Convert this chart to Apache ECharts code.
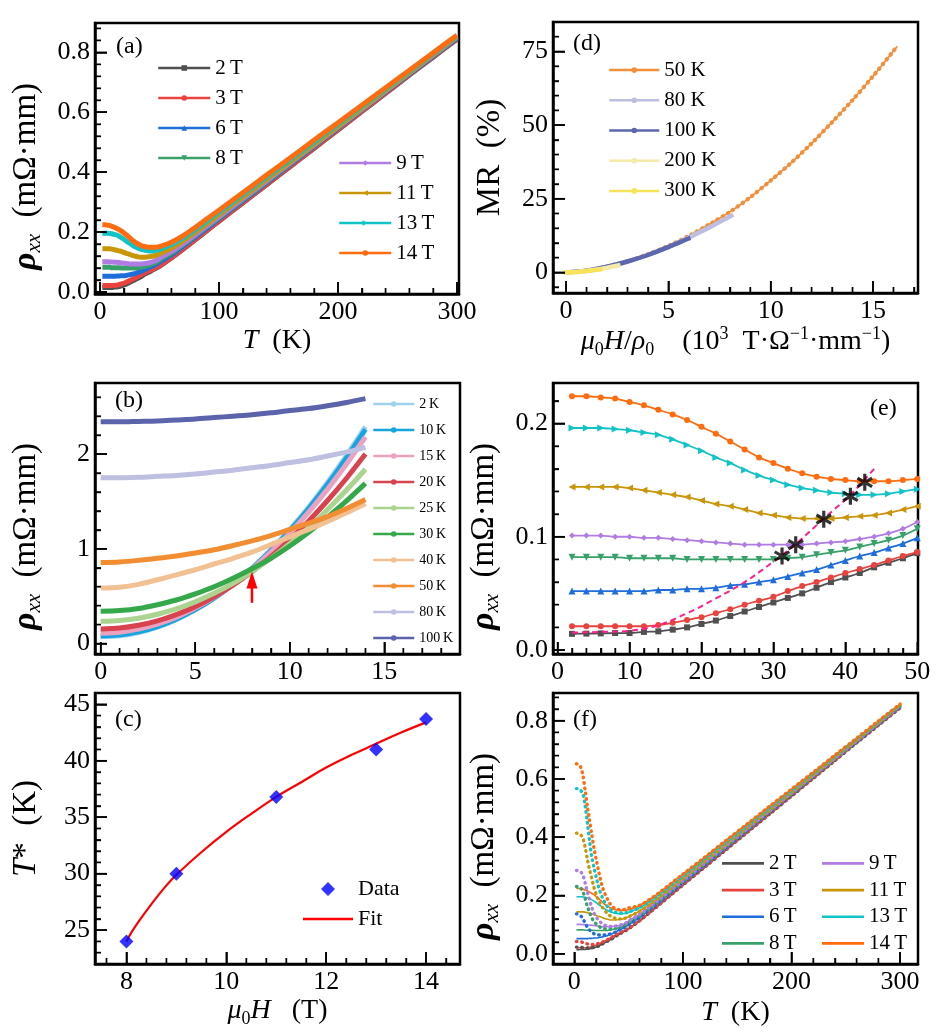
<!DOCTYPE html>
<html><head><meta charset="utf-8">
<script src="https://cdn.jsdelivr.net/npm/echarts@6/dist/echarts.min.js"></script>
<style>html,body{margin:0;padding:0;background:#fff}#c{width:945px;height:1036px}</style>
</head><body><div id="c"></div>
<script>
// ---------------- DATA ----------------
const T_LOW = [2,4,6,8,10,12,14,16,18,20,22,24,26,28,30,32,34,36,38,40,42,44,46,48,50];
const T_HIGH = [60,70,80,90,100,120,140,160,180,200,220,240,260,280,300];
const rho2_low  = [0.0143,0.0145,0.0147,0.015,0.015,0.016,0.0165,0.018,0.020,0.023,0.026,0.030,0.034,0.038,0.042,0.046,0.050,0.055,0.060,0.064,0.068,0.073,0.077,0.081,0.0855];
const rho3_low  = [0.021,0.021,0.021,0.021,0.021,0.021,0.022,0.024,0.0265,0.029,0.0325,0.036,0.040,0.0435,0.047,0.052,0.0565,0.060,0.064,0.068,0.0715,0.075,0.079,0.083,0.0865];
const rho6_low  = [0.052,0.052,0.052,0.052,0.052,0.052,0.053,0.053,0.054,0.054,0.055,0.057,0.058,0.060,0.062,0.065,0.068,0.071,0.075,0.079,0.083,0.086,0.090,0.094,0.099];
const rho8_low  = [0.082,0.082,0.082,0.082,0.081,0.081,0.081,0.081,0.080,0.080,0.080,0.080,0.080,0.080,0.080,0.081,0.082,0.084,0.086,0.088,0.091,0.094,0.097,0.101,0.107];
const rho9_low  = [0.101,0.101,0.101,0.100,0.100,0.099,0.099,0.098,0.097,0.096,0.095,0.094,0.093,0.093,0.093,0.093,0.093,0.094,0.095,0.096,0.098,0.100,0.103,0.107,0.113];
const rho11_low = [0.144,0.144,0.144,0.144,0.143,0.141,0.139,0.137,0.135,0.132,0.129,0.127,0.124,0.121,0.119,0.117,0.116,0.116,0.116,0.117,0.118,0.119,0.121,0.124,0.127];
const rho13_low = [0.196,0.196,0.196,0.195,0.194,0.192,0.190,0.186,0.181,0.176,0.170,0.165,0.159,0.154,0.150,0.146,0.143,0.141,0.139,0.138,0.137,0.137,0.138,0.140,0.142];
const rho14_low = [0.224,0.224,0.223,0.222,0.219,0.216,0.212,0.208,0.203,0.197,0.191,0.184,0.177,0.170,0.165,0.160,0.156,0.153,0.151,0.150,0.149,0.149,0.149,0.150,0.151];
const rho2_high  = [0.113,0.143,0.174,0.205,0.236,0.297,0.358,0.419,0.480,0.541,0.602,0.663,0.724,0.784,0.844];
const rho3_high  = [0.114,0.144,0.175,0.206,0.237,0.298,0.359,0.420,0.481,0.542,0.603,0.664,0.725,0.785,0.845];
const rho6_high  = [0.124,0.153,0.183,0.213,0.244,0.304,0.365,0.426,0.487,0.547,0.608,0.668,0.728,0.788,0.848];
const rho8_high  = [0.130,0.158,0.188,0.218,0.248,0.308,0.368,0.429,0.489,0.549,0.609,0.670,0.730,0.790,0.850];
const rho9_high  = [0.135,0.162,0.191,0.221,0.251,0.311,0.371,0.431,0.491,0.551,0.611,0.671,0.731,0.791,0.851];
const rho11_high = [0.146,0.171,0.199,0.228,0.258,0.317,0.376,0.435,0.494,0.553,0.613,0.673,0.733,0.793,0.853];
const rho13_high = [0.158,0.181,0.208,0.237,0.266,0.325,0.384,0.442,0.501,0.560,0.619,0.678,0.737,0.796,0.855];
const rho14_high = [0.166,0.188,0.215,0.244,0.273,0.331,0.390,0.448,0.507,0.565,0.623,0.682,0.740,0.799,0.857];
const dot2  = [0.023,0.023,0.022,0.021,0.020,0.020,0.020,0.021,0.022,0.024,0.026,0.030,0.034,0.038,0.042,0.046,0.050,0.055,0.060,0.064,0.068,0.073,0.077,0.081,0.0855];
const dot3  = [0.042,0.042,0.041,0.039,0.036,0.034,0.033,0.032,0.032,0.033,0.035,0.037,0.040,0.0435,0.047,0.052,0.0565,0.060,0.064,0.068,0.0715,0.075,0.079,0.083,0.0865];
const dot6  = [0.137,0.136,0.130,0.120,0.105,0.092,0.082,0.074,0.069,0.066,0.065,0.064,0.064,0.065,0.066,0.067,0.069,0.071,0.075,0.079,0.083,0.086,0.090,0.094,0.099];
const dot8  = [0.231,0.230,0.225,0.213,0.190,0.164,0.143,0.124,0.112,0.103,0.096,0.091,0.088,0.086,0.085,0.085,0.085,0.086,0.087,0.089,0.091,0.094,0.097,0.101,0.107];
const dot9  = [0.286,0.285,0.281,0.270,0.243,0.213,0.187,0.160,0.141,0.127,0.117,0.109,0.102,0.098,0.096,0.094,0.094,0.094,0.095,0.096,0.098,0.100,0.103,0.107,0.113];
const dot11 = [0.414,0.413,0.408,0.396,0.366,0.325,0.290,0.261,0.229,0.206,0.186,0.171,0.159,0.149,0.140,0.133,0.128,0.124,0.122,0.121,0.120,0.120,0.121,0.124,0.127];
const dot13 = [0.567,0.566,0.560,0.548,0.508,0.452,0.390,0.334,0.298,0.266,0.235,0.211,0.192,0.177,0.165,0.155,0.149,0.145,0.142,0.141,0.140,0.140,0.140,0.141,0.143];
const dot14 = [0.652,0.650,0.640,0.612,0.560,0.508,0.458,0.412,0.365,0.327,0.291,0.256,0.228,0.208,0.192,0.177,0.166,0.159,0.155,0.152,0.151,0.151,0.152,0.154,0.157];
const FIELD_LABELS = ['2','3','6','8','9','11','13','14'];
const STAR_T = [31.2,33.1,37.0,40.7,42.7];
const STAR_V = [0.083,0.093,0.1155,0.1357,0.148];
const GUIDE_T = [2,6,10,14,18,22,26,30,33,37,40.7,44];
const GUIDE_V = [0.0155,0.016,0.017,0.022,0.0325,0.0455,0.060,0.078,0.093,0.116,0.137,0.160];
const H_B = [0,1,2,3,4,5,6,7,8,9,10,11,12,13,14];
const b2   = [0.072,0.083,0.117,0.174,0.253,0.355,0.48,0.627,0.796,0.989,1.204,1.442,1.702,1.985,2.29];
const b10  = [0.08,0.091,0.124,0.18,0.258,0.358,0.48,0.625,0.792,0.981,1.192,1.426,1.681,1.96,2.26];
const b15  = [0.11,0.12,0.152,0.205,0.279,0.374,0.49,0.627,0.786,0.965,1.166,1.388,1.63,1.895,2.18];
const b20  = [0.155,0.164,0.193,0.24,0.306,0.39,0.494,0.616,0.757,0.917,1.096,1.294,1.51,1.745,2.0];
const b25  = [0.235,0.244,0.268,0.31,0.366,0.44,0.53,0.635,0.76,0.9,1.055,1.225,1.415,1.62,1.84];
const b30  = [0.34,0.348,0.37,0.41,0.46,0.525,0.6,0.69,0.79,0.9,1.03,1.175,1.335,1.505,1.69];
const b40  = [0.586,0.595,0.625,0.674,0.725,0.779,0.84,0.9,0.965,1.045,1.125,1.205,1.29,1.38,1.475];
const b50  = [0.856,0.862,0.878,0.9,0.925,0.955,0.99,1.035,1.084,1.14,1.205,1.27,1.34,1.425,1.52];
const b80  = [1.75,1.75,1.755,1.765,1.775,1.79,1.81,1.83,1.855,1.88,1.91,1.94,1.98,2.02,2.07];
const b100 = [2.34,2.34,2.345,2.35,2.36,2.37,2.385,2.4,2.415,2.435,2.46,2.48,2.51,2.545,2.585];
const TEMP_LABELS_B = ['2','10','15','20','25','30','40','50','80','100'];
const ARROW_H = 8, ARROW_FROM = 0.43, ARROW_TO = 0.67;
const H_C = [8,9,11,13,14];
const TSTAR = [24.0,30.0,36.8,41.0,43.7];
const FIT_H = [8,8.1,8.25,8.5,8.75,9,9.5,10,10.5,11,11.5,12,12.5,13,13.5,14];
const FIT_T = [24.0,24.8,25.8,27.3,28.7,29.9,31.9,33.7,35.3,36.8,38.1,39.4,40.5,41.5,42.5,43.4];
const X50 = [0,1,2,3,4,5,6,7,8,9,10,11,12,13,14,15,16.19];
const MR50 = [0,0.6,2.0,3.8,6.2,9.0,12.4,16.3,20.5,25.5,31.2,37.2,43.8,51.0,58.5,66.6,76.8];
const X80 = [0,1,2,3,4,5,6,7,8,8.17];
const MR80 = [0,0.6,1.9,3.7,5.9,8.6,11.8,15.2,19.0,19.6];
const X100 = [0,1,2,3,4,5,6,6.08];
const MR100 = [0,0.6,1.9,3.7,5.9,8.6,11.5,11.7];
const X200 = [0,0.5,1,1.5,2,2.66];
const MR200 = [0,0.15,0.5,1.0,1.6,2.5];
const X300 = [-0.1,0.5,1,1.5,1.76];
const MR300 = [0,0.12,0.45,0.85,1.1];
const TEMP_LABELS_D = ['50','80','100','200','300'];
// axis ranges per panel: [xmin, xmax, xstep, ymin, ymax, ystep]
const RANGE_A = [-4.2, 301.7, 100, -0.007, 0.898, 0.2];
const RANGE_D = [-0.64, 17.2, 5, -7, 85, 25];
const RANGE_B = [-0.3, 19, 5, -0.11, 2.75, 1];
const RANGE_E = [-0.64, 50.1, 10, -0.0035, 0.2357, 0.1];
const RANGE_C = [7.37, 14.68, 2, 22, 46, 5];
const RANGE_F = [-19.6, 316.5, 100, -0.035, 0.895, 0.2];

// ---------------- STYLE ----------------
const FONT = '"Liberation Serif","DejaVu Serif",serif';
const FIELD_COLORS = ['#505050','#e8433f','#1f6ddb','#38a169','#b07ce3','#c9960a','#11c3c6','#ff6b0f'];
const FIELD_SYMBOLS = ['rect','circle','triangle','triangle','diamond','triangle','triangle','circle'];
const FIELD_ROT = [0,0,0,180,0,90,-90,0];
const B_COLORS = ['#9fd1ee','#18a5df','#eba2c0','#d9434f','#aad490','#34a84b','#f2c193','#f28d31','#bebfe1','#5b63ab'];
const D_COLORS = ['#f28f3b','#bdbfe2','#5c67ae','#f5eaa8','#f7e25b'];
const THIN = '\u2009';

const zip = (xs, ys) => xs.map((x, i) => [x, ys[i]]);
const LOWS = [rho2_low,rho3_low,rho6_low,rho8_low,rho9_low,rho11_low,rho13_low,rho14_low];
const HIGHS = [rho2_high,rho3_high,rho6_high,rho8_high,rho9_high,rho11_high,rho13_high,rho14_high];
const DOTS = [dot2,dot3,dot6,dot8,dot9,dot11,dot13,dot14];
const T_ALL = T_LOW.concat(T_HIGH);
const B_ARR = [b2,b10,b15,b20,b25,b30,b40,b50,b80,b100];
const RANGES = [RANGE_A, RANGE_D, RANGE_B, RANGE_E, RANGE_C, RANGE_F];

const richY = {
  r: {fontFamily: FONT, fontSize: 34, fontStyle: 'italic', fontWeight: 'bold', color: '#000', lineHeight: 38},
  si: {fontFamily: FONT, fontSize: 21, fontStyle: 'italic', color: '#000', verticalAlign: 'bottom', lineHeight: 20},
  n: {fontFamily: FONT, fontSize: 33, color: '#000', lineHeight: 38},
  i: {fontFamily: FONT, fontSize: 33, fontStyle: 'italic', color: '#000', lineHeight: 38}
};
const richX = {
  n: {fontFamily: FONT, fontSize: 28, color: '#000', lineHeight: 34},
  i: {fontFamily: FONT, fontSize: 28, fontStyle: 'italic', color: '#000', lineHeight: 34},
  s: {fontFamily: FONT, fontSize: 18, color: '#000', verticalAlign: 'bottom', lineHeight: 18},
  p: {fontFamily: FONT, fontSize: 18, color: '#000', verticalAlign: 'top', lineHeight: 20}
};
const RHO_NAME = '{r|ρ}{si|xx}{n|  (mΩ·mm)}';
const RHO_STYLE = {rich: richY, padding: [0, 36, 0, 0]};

function axis(grid, min, max, step, fmt, extra) {
  return Object.assign({
    type: 'value', gridIndex: grid, min: min, max: max, zlevel: 1, z: 10,
    minInterval: step, maxInterval: step, splitNumber: 5,
    axisLine: {show: true, onZero: false, lineStyle: {color: '#000', width: 2.5}},
    axisTick: {show: true, inside: true, length: 12, lineStyle: {color: '#000', width: 1.6}},
    minorTick: {show: true, splitNumber: 5, length: 6, lineStyle: {color: '#000', width: 1.4}},
    splitLine: {show: false},
    axisLabel: {show: true, showMinLabel: false, showMaxLabel: false, color: '#000',
      fontFamily: FONT, fontSize: 26, margin: 5, formatter: fmt},
    nameLocation: 'middle'
  }, extra || {});
}
const f1 = v => v.toFixed(1);
const f0 = v => String(Math.round(v));

const grids = [
  {left: 95, top: 23, width: 364, height: 271},
  {left: 553, top: 22, width: 365, height: 271},
  {left: 95, top: 383, width: 365, height: 271},
  {left: 553, top: 383, width: 365, height: 271},
  {left: 95, top: 693, width: 365, height: 271},
  {left: 553, top: 693, width: 365, height: 271}
].map(g => Object.assign(g, {show: true, borderColor: '#000', borderWidth: 2.5}));

const xAxes = [
  axis(0, RANGE_A[0], RANGE_A[1], RANGE_A[2], f0, {name: '{i|T}{n|  (K)}', nameGap: 30, nameTextStyle: {rich: richX}}),
  axis(1, RANGE_D[0], RANGE_D[1], RANGE_D[2], f0, {name: '{i|μ}{s|0}{i|H}{n|/}{i|ρ}{s|0}{n|    (10}{p|3}{n|  T·Ω}{p|−1}{n|·mm}{p|−1}{n|)}', nameGap: 30, nameTextStyle: {rich: richX}}),
  axis(2, RANGE_B[0], RANGE_B[1], RANGE_B[2], f0),
  axis(3, RANGE_E[0], RANGE_E[1], RANGE_E[2], f0),
  axis(4, RANGE_C[0], RANGE_C[1], RANGE_C[2], f0, {name: '{i|μ}{s|0}{i|H}{n|   (T)}', nameGap: 30, nameTextStyle: {rich: richX}}),
  axis(5, RANGE_F[0], RANGE_F[1], RANGE_F[2], f0, {name: '{i|T}{n|  (K)}', nameGap: 32, nameTextStyle: {rich: richX}})
];
const yAxes = [
  axis(0, RANGE_A[3], RANGE_A[4], RANGE_A[5], f1, {name: RHO_NAME, nameGap: 50, nameTextStyle: RHO_STYLE}),
  axis(1, RANGE_D[3], RANGE_D[4], RANGE_D[5], f0, {name: '{n|MR  (%)}', nameGap: 44, nameTextStyle: {rich: richY}}),
  axis(2, RANGE_B[3], RANGE_B[4], RANGE_B[5], f0, {name: RHO_NAME, nameGap: 50, nameTextStyle: RHO_STYLE}),
  axis(3, RANGE_E[3], RANGE_E[4], RANGE_E[5], f1, {name: RHO_NAME, nameGap: 50, nameTextStyle: RHO_STYLE}),
  axis(4, RANGE_C[3], RANGE_C[4], RANGE_C[5], f0, {name: '{i|T}{n|*  (K)}', nameGap: 50, nameTextStyle: {rich: richY}}),
  axis(5, RANGE_F[3], RANGE_F[4], RANGE_F[5], f1, {name: RHO_NAME, nameGap: 50, nameTextStyle: RHO_STYLE})
];

const series = [];
FIELD_LABELS.forEach((f, k) => {
  series.push({
    type: 'line', name: 'a:' + f + THIN + 'T', xAxisIndex: 0, yAxisIndex: 0,
    data: zip(T_ALL, LOWS[k].concat(HIGHS[k])), smooth: 0.3,
    showSymbol: false, symbol: FIELD_SYMBOLS[k], symbolRotate: FIELD_ROT[k],
    itemStyle: {color: FIELD_COLORS[k]},
    lineStyle: {color: FIELD_COLORS[k], width: 5}, z: 2
  });
});
const D_SETS = [[X50, MR50], [X80, MR80], [X100, MR100], [X200, MR200], [X300, MR300]];
D_SETS.forEach((s, k) => {
  const isMain = k === 0;
  series.push({
    type: 'line', name: 'd:' + TEMP_LABELS_D[k] + ' K', xAxisIndex: 1, yAxisIndex: 1,
    data: zip(s[0], s[1]), smooth: 0.3, showSymbol: false, symbol: 'circle',
    itemStyle: {color: D_COLORS[k]},
    lineStyle: {color: D_COLORS[k], width: isMain ? 1.6 : 4.5}, z: 2 + k
  });
  if (isMain) {
    series.push({
      type: 'line', name: 'dd', xAxisIndex: 1, yAxisIndex: 1,
      data: zip(s[0], s[1]), smooth: 0.3, showSymbol: false,
      lineStyle: {color: D_COLORS[k], width: 4.2, type: [0.5, 5.5], cap: 'round'}, z: 2
    });
  }
});
B_ARR.forEach((arr, k) => {
  series.push({
    type: 'line', name: 'b:' + TEMP_LABELS_B[k] + THIN + 'K', xAxisIndex: 2, yAxisIndex: 2,
    data: zip(H_B, arr), smooth: 0.3, showSymbol: false, symbol: 'circle',
    itemStyle: {color: B_COLORS[k]},
    lineStyle: {color: B_COLORS[k], width: 5}, z: 2
  });
});
series.push({
  type: 'line', name: 'arrow', xAxisIndex: 2, yAxisIndex: 2, z: 8,
  data: [{value: [ARROW_H, ARROW_FROM], symbol: 'none'}, {value: [ARROW_H, ARROW_TO], symbol: 'triangle', symbolSize: [11, 17]}],
  showSymbol: true, itemStyle: {color: '#ff0000'}, lineStyle: {color: '#ff0000', width: 2.5}
});
FIELD_LABELS.forEach((f, k) => {
  series.push({
    type: 'line', name: 'e' + f, xAxisIndex: 3, yAxisIndex: 3,
    data: zip(T_LOW, LOWS[k]), smooth: 0.3, showSymbol: true,
    symbol: FIELD_SYMBOLS[k], symbolRotate: FIELD_ROT[k],
    symbolSize: FIELD_SYMBOLS[k] === 'triangle' ? 7 : 6,
    itemStyle: {color: FIELD_COLORS[k]},
    lineStyle: {color: FIELD_COLORS[k], width: 1.8}, z: 2
  });
});
series.push({
  type: 'line', name: 'guide', xAxisIndex: 3, yAxisIndex: 3, data: zip(GUIDE_T, GUIDE_V),
  smooth: 0.4, showSymbol: false, lineStyle: {color: '#ff1f8e', width: 2, type: [6, 4]}, z: 5
});
series.push({
  type: 'scatter', name: 'stars', xAxisIndex: 3, yAxisIndex: 3, data: zip(STAR_T, STAR_V),
  symbol: 'path://M-1.3,-7L1.3,-7L1.3,7L-1.3,7Z M5.412,-4.626L6.712,-2.374L-5.412,4.626L-6.712,2.374Z M6.712,2.374L5.412,4.626L-6.712,-2.374L-5.412,-4.626Z',
  symbolSize: 17, symbolKeepAspect: true, itemStyle: {color: '#000'}, z: 6
});
series.push({
  type: 'line', name: 'c:Fit', xAxisIndex: 4, yAxisIndex: 4, data: zip(FIT_H, FIT_T),
  smooth: 0.4, showSymbol: false, symbol: 'none', lineStyle: {color: '#ff0000', width: 2.2}, itemStyle: {color: '#ff0000'}, z: 2
});
series.push({
  type: 'scatter', name: 'c:Data', xAxisIndex: 4, yAxisIndex: 4, data: zip(H_C, TSTAR),
  symbol: 'diamond', symbolSize: 14, itemStyle: {color: '#0000ff'}, z: 3
});
FIELD_LABELS.forEach((f, k) => {
  series.push({
    type: 'line', name: 'f:' + f + THIN + 'T', xAxisIndex: 5, yAxisIndex: 5,
    data: zip(T_ALL, LOWS[k].concat(HIGHS[k])), smooth: 0.3, showSymbol: false, symbol: 'none',
    itemStyle: {color: FIELD_COLORS[k]}, lineStyle: {color: FIELD_COLORS[k], width: 1.6}, z: 2
  });
});
FIELD_LABELS.forEach((f, k) => {
  series.push({
    type: 'line', name: 'g' + f, xAxisIndex: 5, yAxisIndex: 5,
    data: zip(T_ALL, DOTS[k].concat(HIGHS[k])), smooth: 0.3, showSymbol: false,
    lineStyle: {color: FIELD_COLORS[k], width: 3.4, type: [0.6, 4.8], cap: 'round'}, z: 3
  });
});

const strip = n => n.slice(2);
function legend(names, left, top, o) {
  return Object.assign({
    data: names, left: left, top: top, orient: 'vertical', padding: 0, itemGap: 0,
    selectedMode: false, formatter: strip, z: 12,
    textStyle: {fontFamily: FONT, color: '#000', fontSize: o.fs, lineHeight: o.lh},
    itemWidth: o.w, itemHeight: o.h
  }, o.extra || {});
}
const aNames = FIELD_LABELS.map(f => 'a:' + f + THIN + 'T');
const fNames = FIELD_LABELS.map(f => 'f:' + f + THIN + 'T');
const LINE_ICON = 'path://M0,0L40,0L40,2.6L0,2.6Z';
const DIAMOND_ICON = 'path://M0,0L0.01,0L0,0.01Z M50,14L49.99,14L50,13.99Z M25,0L32,7L25,14L18,7Z';
const legends = [
  legend(aNames.slice(0, 4), 157, 53, {fs: 21, lh: 30, w: 52, h: 7, extra: {lineStyle: {width: 2.5}}}),
  legend(aNames.slice(4), 338, 148, {fs: 21, lh: 30, w: 52, h: 7, extra: {lineStyle: {width: 2.5}}}),
  legend(TEMP_LABELS_B.map(t => 'b:' + t + THIN + 'K'), 372, 391, {fs: 14, lh: 26, w: 41, h: 7, extra: {lineStyle: {width: 2.5}}}),
  legend(TEMP_LABELS_D.map(t => 'd:' + t + ' K'), 608, 55, {fs: 21, lh: 30.2, w: 50, h: 7, extra: {lineStyle: {width: 2.5}}}),
  legend([{name: 'c:Data', icon: DIAMOND_ICON}, {name: 'c:Fit', icon: 'path://M0,0L50,0L50,2.4L0,2.4Z'}], 303, 874, {fs: 22, lh: 30, w: 50, h: 14}),
  legend(fNames.slice(0, 4), 722, 850, {fs: 21, lh: 26.7, w: 42, h: 10, extra: {icon: LINE_ICON}}),
  legend(fNames.slice(4), 822, 850, {fs: 21, lh: 26.7, w: 42, h: 10, extra: {icon: LINE_ICON}})
];

const PANEL_LABELS = [['(a)', 116, 48], ['(d)', 573, 45], ['(b)', 115, 402], ['(e)', 870, 410], ['(c)', 115, 721], ['(f)', 573, 721]];
const labelGraphic = PANEL_LABELS.map(p => ({
  type: 'text', left: p[1], top: p[2] - 13, z: 20,
  style: {text: p[0], font: '24px ' + FONT, fill: '#000'}
}));

const chart = echarts.init(document.getElementById('c'));
chart.setOption({
  animation: false, backgroundColor: '#fff',
  grid: grids, xAxis: xAxes, yAxis: yAxes, series: series, legend: legends, graphic: labelGraphic
});

// inward tick marks, positioned through each panel's own axis scales, on a separate canvas layer
function tickVals(min, max, step) {
  const out = [];
  const m = step / 5;
  const k0 = Math.ceil(min / m - 1e-9), k1 = Math.floor(max / m + 1e-9);
  for (let k = k0; k <= k1; k++) {
    const v = Math.round(k * m * 1e9) / 1e9;
    if (v <= min || v >= max) continue;
    out.push([v, k % 5 === 0]);
  }
  return out;
}
const tickGraphic = [];
try {
  RANGES.forEach((r, g) => {
    const origin = chart.convertToPixel({gridIndex: g}, [r[0], r[3]]);
    tickVals(r[0], r[1], r[2]).forEach(t => {
      const p = chart.convertToPixel({gridIndex: g}, [t[0], r[3]]);
      const len = t[1] ? 12 : 6;
      tickGraphic.push({type: 'line', silent: true, zlevel: 3, z: 100,
        shape: {x1: p[0], y1: origin[1], x2: p[0], y2: origin[1] - len},
        style: {stroke: '#000', lineWidth: t[1] ? 1.6 : 1.4}});
    });
    tickVals(r[3], r[4], r[5]).forEach(t => {
      const p = chart.convertToPixel({gridIndex: g}, [r[0], t[0]]);
      const len = t[1] ? 12 : 6;
      tickGraphic.push({type: 'line', silent: true, zlevel: 3, z: 100,
        shape: {x1: origin[0], y1: p[1], x2: origin[0] + len, y2: p[1]},
        style: {stroke: '#000', lineWidth: t[1] ? 1.6 : 1.4}});
    });
  });
} catch (e) { /* keep chart without extra ticks */ }
if (tickGraphic.length) {
  chart.setOption({graphic: labelGraphic.concat(tickGraphic)});
}
</script></body></html>
